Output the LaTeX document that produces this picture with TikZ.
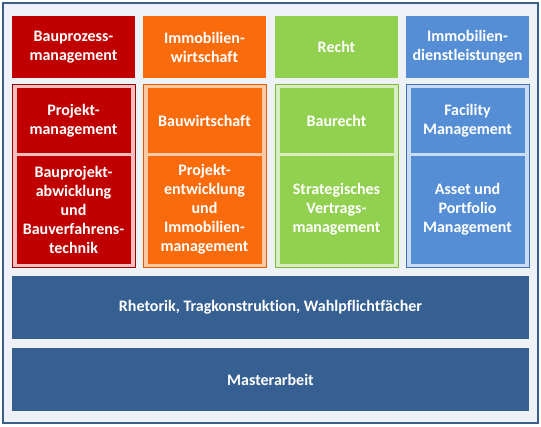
\documentclass[tikz,border=0pt]{standalone}
\usepackage{fontspec}
\setmainfont{Carlito}[Ligatures=NoCommon]
\usepackage{tikz}

\definecolor{rot}{HTML}{C00000}
\definecolor{rotrand}{HTML}{9A0000}
\definecolor{rothell}{HTML}{F3BDBD}
\definecolor{orange}{HTML}{F96B0B}
\definecolor{orangerand}{HTML}{E05A00}
\definecolor{orangehell}{HTML}{FBC9A3}
\definecolor{gruen}{HTML}{92D050}
\definecolor{gruenrand}{HTML}{7DBB3C}
\definecolor{gruenhell}{HTML}{D8EEC2}
\definecolor{blau}{HTML}{558ED5}
\definecolor{blaurand}{HTML}{3F73B5}
\definecolor{blauhell}{HTML}{C9DBF2}
\definecolor{balken}{HTML}{376092}
\definecolor{rahmen}{HTML}{3A5F8B}
\definecolor{grund}{HTML}{EEF1F6}

\tikzset{
  feld/.style={rectangle, inner sep=0pt, outer sep=0pt, align=center,
    text=white, font=\fontsize{16}{19}\selectfont\bfseries},
  kopf/.style={feld, minimum width=123, minimum height=62},
  mitte/.style={rectangle, inner sep=0pt, outer sep=0pt, line width=1pt,
    minimum width=123, minimum height=183},
  oben/.style={feld, minimum width=114, minimum height=65},
  unten/.style={feld, minimum width=114, minimum height=108},
  balkenfeld/.style={feld, fill=balken, minimum width=517, minimum height=63}
}

\begin{document}
\begin{tikzpicture}[x=1pt, y=-1pt]
            \useasboundingbox (0,0) rectangle (541,426);
            % Rahmen
            \node[rectangle, draw=rahmen, fill=grund, line width=1.5pt, minimum width=535, minimum height=420] (rahmen) at (270.5,213) {};

            % Kopfzeile
            \node[kopf, fill=rot] (bpm) at (73.5,47) {Bauprozess-\\management};
            \node[kopf, fill=orange] (iw) at (204.5,47) {Immobilien-\\wirtschaft};
            \node[kopf, fill=gruen] (recht) at (336.5,47) {Recht};
            \node[kopf, fill=blau] (idl) at (467.5,47) {Immobilien-\\dienstleistungen};

            % Vertiefungen
            \node[mitte, draw=rotrand, fill=rothell] (rotmitte) at (73.5,175.5) {};
            \node[mitte, draw=orangerand, fill=orangehell] (orangemitte) at (204.5,175.5) {};
            \node[mitte, draw=gruenrand, fill=gruenhell] (gruenmitte) at (336.5,175.5) {};
            \node[mitte, draw=blaurand, fill=blauhell] (blaumitte) at (467.5,175.5) {};

            \node[oben, fill=rot] (pm) at (73.5,120.5) {Projekt-\\management};
            \node[unten, fill=rot] (bpa) at (73.5,209.5) {Bauprojekt-\\abwicklung\\und\\Bauverfahrens-\\technik};
            \node[oben, fill=orange] (bw) at (204.5,120.5) {Bauwirtschaft};
            \node[unten, fill=orange] (pe) at (204.5,209.5) {Projekt-\\entwicklung\\und\\Immobilien-\\management};
            \node[oben, fill=gruen] (br) at (336.5,120.5) {Baurecht};
            \node[unten, fill=gruen] (svm) at (336.5,209.5) {Strategisches\\Vertrags-\\management};
            \node[oben, fill=blau] (fm) at (467.5,120.5) {Facility\\Management};
            \node[unten, fill=blau] (apm) at (467.5,209.5) {Asset und\\Portfolio\\Management};

            % Gemeinsame Module
            \node[balkenfeld] (rtw) at (270.5,307.5) {Rhetorik, Tragkonstruktion, Wahlpflichtfächer};
            \node[balkenfeld] (ma) at (270.5,379.5) {Masterarbeit};
        \end{tikzpicture}
\end{document}
